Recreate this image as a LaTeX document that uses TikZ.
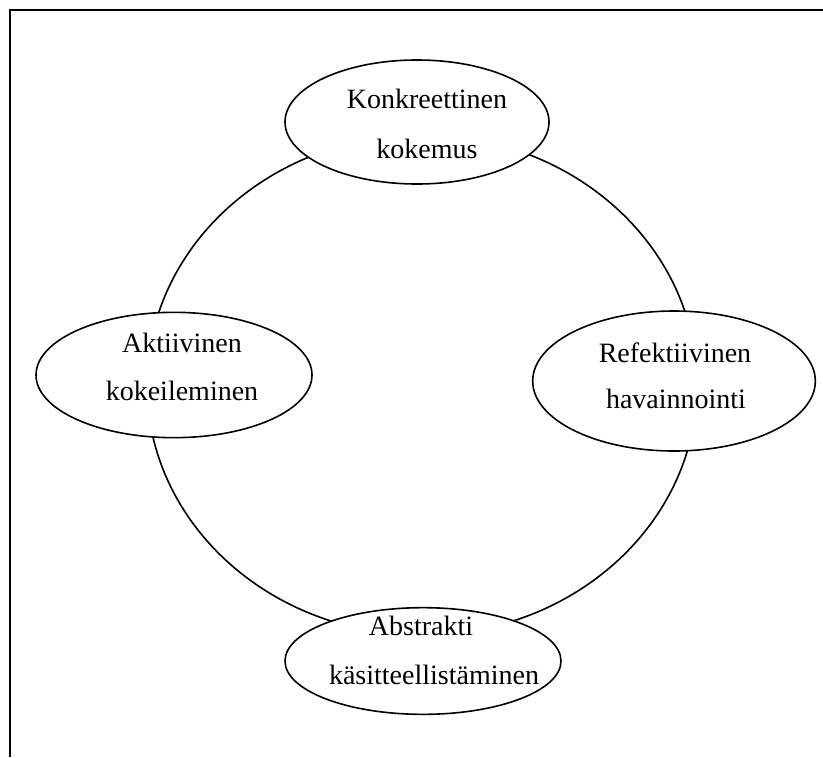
\documentclass[tikz,border=0pt]{standalone}
\usepackage{fontspec}
\setmainfont{Liberation Serif}
\usetikzlibrary{shapes.geometric}
\begin{document}
\begin{tikzpicture}[x=0.75pt,y=-0.75pt,
  line width=1.2pt,
  stage/.style={draw, ellipse, fill=white, inner sep=0pt},
  lbl/.style={anchor=base, inner sep=0pt, font=\fontsize{21}{25}\selectfont}]
\useasboundingbox (0,0) rectangle (823,757);
% frame
\coordinate (f1) at (10,757);
\coordinate (f2) at (10,10);
\coordinate (f3) at (823,10);
\draw[line width=1.6pt] (f1) -- (f2) -- (f3);
% cycle
\node[draw, ellipse, inner sep=0pt, minimum width=412.5pt, minimum height=375pt] (cyc) at (422,385) {};
% stages
\node[stage, minimum width=198pt, minimum height=93pt] (kk) at (417,122) {};
\node[stage, minimum width=207pt, minimum height=94pt] (ak) at (174,375) {};
\node[stage, minimum width=212pt, minimum height=105pt] (rh) at (674,381) {};
\node[stage, minimum width=207pt, minimum height=80pt] (ab) at (423,661) {};
% labels
\node[lbl] (kk1) at (427,108) {Konkreettinen};
\node[lbl] (kk2) at (427,158) {kokemus};
\node[lbl] (ak1) at (182,352) {Aktiivinen};
\node[lbl] (ak2) at (182,400) {kokeileminen};
\node[lbl] (rh1) at (675,362) {Refektiivinen};
\node[lbl] (rh2) at (676,408) {havainnointi};
\node[lbl] (ab1) at (421,635) {Abstrakti};
\node[lbl] (ab2) at (434,684) {käsitteellistäminen};
\end{tikzpicture}
\end{document}
